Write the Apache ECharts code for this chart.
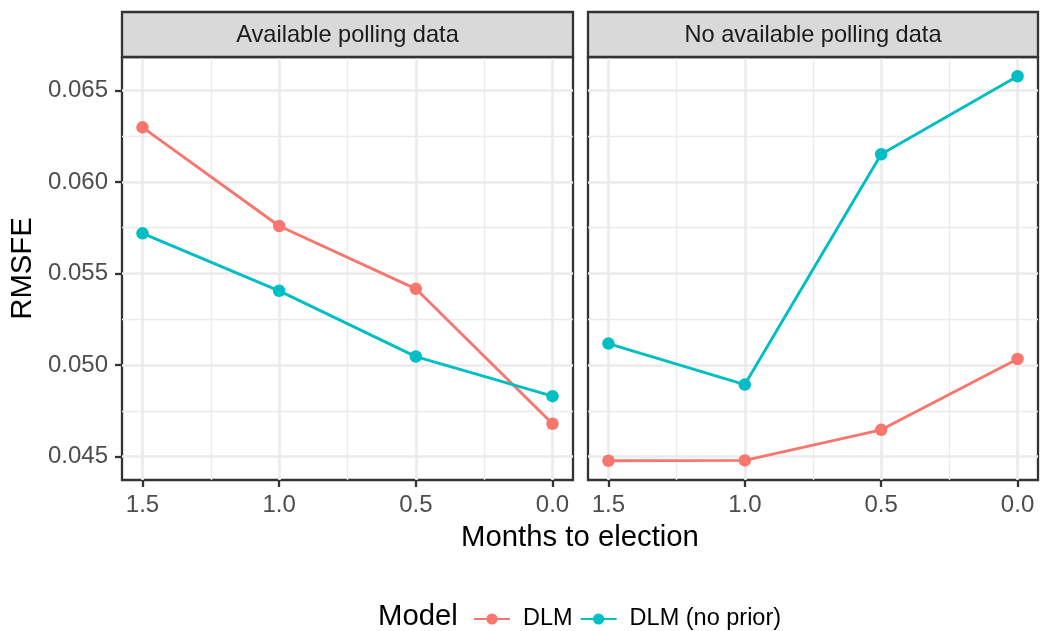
<!DOCTYPE html>
<html>
<head>
<meta charset="utf-8">
<script src="https://cdn.jsdelivr.net/npm/echarts@6/dist/echarts.min.js"></script>
<style>
html,body{margin:0;padding:0;background:#fff;}
#chart{width:1040px;height:631px;}
</style>
</head>
<body>
<div id="chart"></div>
<script>
// ---- data ----
const panels = ['Available polling data', 'No available polling data'];
const months = [1.5, 1.0, 0.5, 0.0];
const seriesNames = ['DLM', 'DLM (no prior)'];
const dlmAvailable = [0.06298, 0.05759, 0.05416, 0.04679];
const noPriorAvailable = [0.05719, 0.05405, 0.05046, 0.04830];
const dlmNoPolls = [0.04477, 0.04479, 0.04646, 0.05033];
const noPriorNoPolls = [0.05117, 0.04893, 0.06151, 0.06577];
const xTicks = [1.5, 1.0, 0.5, 0.0];
const xMinorTicks = [1.25, 0.75, 0.25];
const yTicks = [0.045, 0.050, 0.055, 0.060, 0.065];
const yMinorTicks = [0.0475, 0.0525, 0.0575, 0.0625];
const colors = ['#F8766D', '#00BFC4'];

// ---- scales (ggplot-like 5% expansion) ----
const allY = dlmAvailable.concat(noPriorAvailable, dlmNoPolls, noPriorNoPolls);
const yLo = Math.min.apply(null, allY), yHi = Math.max.apply(null, allY);
const yPad = (yHi - yLo) * 0.05;
const xLo = Math.min.apply(null, months), xHi = Math.max.apply(null, months);
const xPad = (xHi - xLo) * 0.05;

const FONT = '"Liberation Sans", Arial, Helvetica, sans-serif';
const GRID_COL = '#EBEBEB';
const DARK = '#333333';

const panelData = [[dlmAvailable, noPriorAvailable], [dlmNoPolls, noPriorNoPolls]];
const gridBoxes = [
  { left: 122, top: 57, width: 451, height: 423 },
  { left: 588, top: 57, width: 450, height: 423 }
];

const grids = [], xAxes = [], yAxes = [], series = [], graphics = [];
gridBoxes.forEach(function (b, p) {
  grids.push({ left: b.left, top: b.top, width: b.width, height: b.height,
    show: true, borderColor: DARK, borderWidth: 2.3, backgroundColor: 'transparent', containLabel: false });
  // major x
  xAxes.push({
    type: 'value', gridIndex: p, inverse: true, position: 'bottom', min: xLo - xPad, max: xHi + xPad,
    axisLine: { show: false, onZero: false },
    axisTick: { show: true, customValues: xTicks, length: 7, lineStyle: { color: DARK, width: 2.3 } },
    axisLabel: { show: true, customValues: xTicks, margin: 13, color: '#4D4D4D', fontSize: 24, fontFamily: FONT,
      formatter: function (v) { return v.toFixed(1); } },
    splitLine: { show: true, lineStyle: { color: GRID_COL, width: 2.6 } }
  });
  // minor x
  xAxes.push({
    type: 'value', gridIndex: p, inverse: true, position: 'top', min: xLo - xPad, max: xHi + xPad,
    axisLine: { show: false, onZero: false },
    axisTick: { show: false, customValues: xMinorTicks },
    axisLabel: { show: false, customValues: xMinorTicks },
    splitLine: { show: true, lineStyle: { color: GRID_COL, width: 1.3 } }
  });
  // major y
  yAxes.push({
    type: 'value', gridIndex: p, position: 'left', min: yLo - yPad, max: yHi + yPad,
    axisLine: { show: false, onZero: false },
    axisTick: { show: p === 0, customValues: yTicks, length: 7, lineStyle: { color: DARK, width: 2.3 } },
    axisLabel: { show: p === 0, customValues: yTicks, margin: 14, color: '#4D4D4D', fontSize: 24, fontFamily: FONT,
      formatter: function (v) { return v.toFixed(3); } },
    splitLine: { show: true, lineStyle: { color: GRID_COL, width: 2.6 } }
  });
  // minor y
  yAxes.push({
    type: 'value', gridIndex: p, position: 'right', min: yLo - yPad, max: yHi + yPad,
    axisLine: { show: false, onZero: false },
    axisTick: { show: false, customValues: yMinorTicks },
    axisLabel: { show: false, customValues: yMinorTicks },
    splitLine: { show: true, lineStyle: { color: GRID_COL, width: 1.3 } }
  });
  panelData[p].forEach(function (vals, s) {
    series.push({
      name: seriesNames[s], type: 'line', xAxisIndex: p * 2, yAxisIndex: p * 2,
      data: months.map(function (m, i) { return [m, vals[i]]; }),
      symbol: 'circle', symbolSize: 12.5, showSymbol: true,
      lineStyle: { color: colors[s], width: 2.9 },
      itemStyle: { color: colors[s] },
      emphasis: { disabled: true }, animation: false, z: 3
    });
  });
  // strip
  graphics.push({ type: 'rect', shape: { x: b.left, y: 12, width: b.width, height: 45 },
    style: { fill: '#D9D9D9', stroke: DARK, lineWidth: 2.3 }, z: 10 });
  graphics.push({ type: 'text', x: b.left + b.width / 2, y: 35,
    style: { text: panels[p], fill: '#1A1A1A', font: '23.6px ' + FONT, textAlign: 'center', textVerticalAlign: 'middle' }, z: 11 });
});

// axis titles and legend title
graphics.push({ type: 'text', x: 580, y: 538,
  style: { text: 'Months to election', fill: '#000', font: '29.3px ' + FONT, textAlign: 'center', textVerticalAlign: 'middle' } });
graphics.push({ type: 'text', x: 23, y: 268.5, rotation: Math.PI / 2,
  style: { text: 'RMSFE', fill: '#000', font: '29.3px ' + FONT, textAlign: 'center', textVerticalAlign: 'middle' } });
graphics.push({ type: 'text', x: 378, y: 617,
  style: { text: 'Model', fill: '#000', font: '29.3px ' + FONT, textAlign: 'left', textVerticalAlign: 'middle' } });

const chart = echarts.init(document.getElementById('chart'), null, { renderer: 'canvas' });
chart.setOption({
  animation: false,
  backgroundColor: '#ffffff',
  color: colors,
  grid: grids,
  xAxis: xAxes,
  yAxis: yAxes,
  series: series,
  legend: {
    data: seriesNames, left: 473, top: 607, padding: 0, orient: 'horizontal',
    itemWidth: 36, itemHeight: 14, itemGap: 7,
    selectedMode: false,
    textStyle: { color: '#000', fontSize: 23.5, fontFamily: FONT, padding: [0, 0, 0, 8] }
  },
  graphic: graphics
});
</script>
</body>
</html>
